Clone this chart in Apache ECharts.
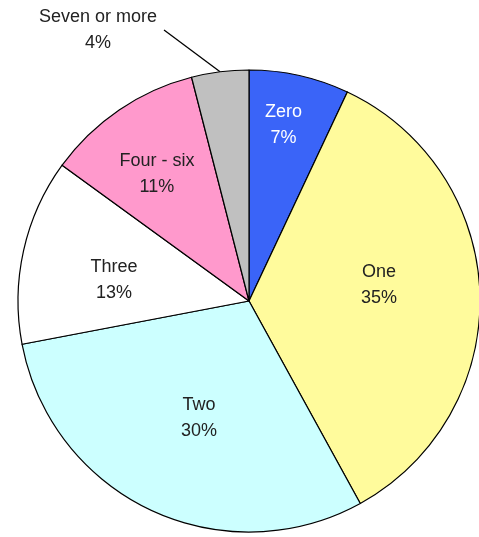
<!DOCTYPE html>
<html>
<head>
<meta charset="utf-8">
<script src="https://cdn.jsdelivr.net/npm/echarts@6/dist/echarts.min.js"></script>
<style>
  html, body { margin: 0; padding: 0; background: #fff; }
  #echartsMain { width: 479px; height: 537px; }
</style>
</head>
<body>
<div id="echartsMain"></div>
<script>
// data
var categories = ['Zero', 'One', 'Two', 'Three', 'Four - six', 'Seven or more'];
var shares = [7, 35, 30, 13, 11, 4];

var colors = ['#3a64f8', '#fffb9c', '#ccffff', '#ffffff', '#ff99cc', '#c0c0c0'];
var textColors = ['#ffffff', '#222', '#222', '#222', '#222', '#222'];
// where the inside labels sit: fraction of the radius, and a small turn in degrees
var labelRadius = [0.776, 0.567, 0.549, 0.591, 0.68, 0];
var labelTurn = [-1.5, -5.4, -2, -3.8, -1.7, 0];

var cx = 249, cy = 301, R = 231;
var total = shares.reduce(function (a, b) { return a + b; }, 0);

var myChart = echarts.init(document.getElementById('echartsMain'));

var pieData = categories.map(function (name, i) {
	var item = {
		name: name,
		value: shares[i],
		itemStyle: { color: colors[i] },
		label: { color: textColors[i] }
	};
	// the small slice has its label outside with a straight line
	if (i === 5) {
		item.label.position = 'outside';
		item.label.padding = [0, 7, 0, 7];
		item.labelLine = { show: true, length: 8, length2: 0, lineStyle: { color: '#000', width: 1.3 } };
	}
	return item;
});

var option = {
	animation: false,
	series: [{
		type: 'pie',
		center: [cx, cy],
		radius: [0, R],
		startAngle: 90,
		clockwise: true,
		data: pieData,
		itemStyle: { borderColor: '#000', borderWidth: 1.2 },
		label: {
			show: true,
			position: 'inside',
			fontFamily: 'Liberation Sans, Arial, sans-serif',
			fontSize: 18,
			lineHeight: 26,
			align: 'center',
			formatter: function (p) { return p.name + '\n' + p.value + '%'; }
		},
		labelLine: { show: false },
		emphasis: { disabled: true },
		labelLayout: function (p) {
			var i = p.dataIndex;
			if (i === 5) {
				return { x: 98, y: 30, align: 'center', verticalAlign: 'middle' };
			}
			var before = 0;
			for (var k = 0; k < i; k++) before += shares[k];
			var mid = (before + shares[i] / 2) / total * 2 * Math.PI + labelTurn[i] * Math.PI / 180;
			var r = R * labelRadius[i];
			return {
				x: cx + r * Math.sin(mid),
				y: cy - r * Math.cos(mid),
				align: 'center',
				verticalAlign: 'middle'
			};
		}
	}]
};

myChart.setOption(option);
</script>
</body>
</html>
